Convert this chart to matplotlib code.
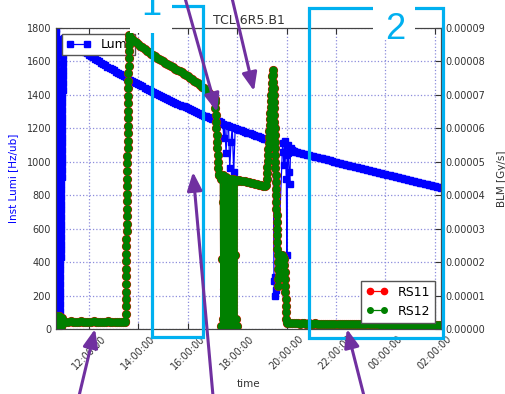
import numpy as np
import pandas as pd
import matplotlib
matplotlib.use("Agg")
import matplotlib.pyplot as plt
import matplotlib.dates as mdates
import matplotlib.patches as patches
from matplotlib.ticker import FormatStrFormatter

W, H = 506, 394
DAY = pd.Timestamp("2012-06-01")

# Inst lumi [Hz/ub], one list per logging stretch (times in hours from midnight)
lumi_ramp_down = [1795, 1770, 1735, 1700, 1660, 1625, 1585, 1545, 1510, 1470, 1430,
                  1390, 1350, 1315, 1275, 1235, 1195, 1160, 1120, 1080, 1040, 1000,
                  960, 925, 885, 845, 805, 770, 730, 690, 650, 615, 575, 535, 495,
                  460, 420, 380, 340, 300, 260, 220, 180, 120, 60, 15]
lumi_ramp_up = [30, 70, 110, 150, 190, 230, 270, 310, 350, 390, 430, 470, 510, 550,
                590, 630, 670, 710, 750, 790, 830, 870, 910, 950, 990, 1030, 1070,
                1110, 1150, 1190, 1230, 1270, 1310, 1350, 1390, 1430, 1470, 1510,
                1550, 1590, 1630, 1670, 1700, 1720, 1735]
# 11:00 .. 17:10, every 5 min
lumi_fill_a = [1742, 1733, 1724, 1715, 1707, 1698, 1690, 1681, 1673, 1664, 1656, 1648,
               1640, 1632, 1624, 1616, 1608, 1600, 1592, 1585, 1577, 1569, 1562, 1554,
               1547, 1539, 1532, 1525, 1518, 1511, 1504, 1497, 1490, 1483, 1477, 1470,
               1464, 1457, 1451, 1444, 1438, 1432, 1426, 1420, 1414, 1408, 1402, 1396,
               1390, 1384, 1378, 1372, 1366, 1360, 1354, 1348, 1342, 1336, 1331, 1325,
               1320, 1314, 1309, 1303, 1298, 1292, 1287, 1281, 1276, 1271, 1266, 1261,
               1256, 1251, 1246]
lumi_dip_h = [17.25, 17.33, 17.42, 17.46, 17.50, 17.55, 17.60, 17.65, 17.70, 17.75,
              17.80, 17.86, 17.92]
lumi_dip_v = [1241, 1236, 1228, 1140, 1222, 1050, 1218, 1214, 960, 1120, 1208, 940,
              1202]
# 18:00 .. 19:20
lumi_fill_b = [1197, 1192, 1188, 1183, 1179, 1174, 1170, 1165, 1161, 1156, 1152, 1147,
               1143, 1138, 1134, 1130, 1126]
lumi_loss_h = [19.40, 19.46, 19.49, 19.52, 19.55, 19.58, 19.62, 19.84, 19.87, 19.90,
               19.93, 19.96, 19.99, 20.01, 20.04, 20.07, 20.10, 20.13, 20.16, 20.20,
               20.25, 20.30]
lumi_loss_v = [1120, 1115, 290, 200, 310, 235, 270, 1110, 1060, 980, 1125, 1040, 900,
               440, 1100, 1050, 940, 870, 1080, 1072, 1066, 1062]
# 20:20 .. 02:15
lumi_fill_c = [1061, 1058, 1055, 1052, 1048, 1045, 1042, 1039, 1036, 1033,
               1030, 1026, 1023, 1020, 1017, 1014, 1011, 1008, 1004, 1001,
               998, 995, 992, 989, 986, 982, 979, 976, 973, 970,
               967, 964, 961, 958, 955, 952, 949, 946, 943, 940,
               937, 934, 931, 928, 925, 922, 919, 916, 913, 910,
               907, 904, 901, 898, 895, 892, 889, 886, 883, 880,
               877, 874, 871, 868, 866, 863, 860, 857, 854, 851,
               848, 845]

# BLM RS12 [1e-5 Gy/s]
blm_start = [0.30, 0.12, 0.36, 0.08, 0.28, 0.40, 0.15, 0.05, 0.33, 0.22, 0.10, 0.38,
             0.25, 0.18, 0.30, 0.22, 0.35, 0.12, 0.28, 0.06, 0.31, 0.24, 0.16, 0.34,
             0.22, 0.27, 0.19, 0.24, 0.22, 0.22]
blm_flat_a = [0.22, 0.20, 0.21, 0.23, 0.22, 0.20, 0.21, 0.22, 0.23, 0.21, 0.20, 0.22,
              0.22, 0.21, 0.23, 0.22, 0.20, 0.21, 0.22, 0.22, 0.21, 0.23, 0.22, 0.20,
              0.21, 0.22, 0.22, 0.21, 0.22, 0.21]
blm_ramp = [0.25, 0.45, 0.68, 0.90, 1.12, 1.35, 1.57, 1.80, 2.02, 2.25, 2.47, 2.70,
            2.92, 3.15, 3.37, 3.60, 3.82, 4.05, 4.27, 4.50, 4.72, 4.95, 5.17, 5.40,
            5.62, 5.85, 6.07, 6.30, 6.52, 6.75, 6.97, 7.20, 7.42, 7.65, 7.87, 8.10,
            8.30, 8.50, 8.68, 8.80]
blm_decay = [8.72, 8.67, 8.62, 8.57, 8.52, 8.47, 8.42, 8.37, 8.32, 8.27,
             8.22, 8.18, 8.15, 8.11, 8.08, 8.04, 8.00, 7.96, 7.93, 7.89,
             7.86, 7.82, 7.78, 7.74, 7.71, 7.67, 7.63, 7.59, 7.55, 7.51,
             7.47, 7.43, 7.39, 7.35, 7.30, 7.25, 7.20, 7.14, 7.08, 7.02,
             6.96, 6.88]
blm_drop = [6.8, 6.6, 6.4, 6.2, 6.0, 5.8, 5.6, 5.4, 5.2, 5.0, 4.8, 4.6, 4.6, 4.62]
blm_spiky = [4.6, 0.1, 4.5, 2.1, 0.05, 3.8, 4.6, 0.3, 1.2, 4.5, 0.08, 2.9, 4.55, 0.15,
             4.5, 3.3, 0.05, 1.8, 4.5, 0.2, 4.5, 0.1, 2.5, 4.48, 0.06, 4.45, 1.0, 3.9,
             0.12, 4.5, 0.05, 4.47, 2.2, 0.1, 4.46, 0.3, 4.45, 0.08, 4.45, 4.44]
blm_flat_b = [4.45, 4.44, 4.43, 4.42, 4.41, 4.40, 4.38, 4.37, 4.35, 4.34, 4.32, 4.30,
              4.29, 4.27]
blm_bump_up = [4.30, 4.48, 4.66, 4.84, 5.02, 5.20, 5.38, 5.56, 5.74, 5.92, 6.10, 6.28,
               6.46, 6.64, 6.82, 7.00, 7.18, 7.36, 7.56, 7.75]
blm_bump_down = [7.6, 7.4, 7.2, 7.0, 6.8, 6.6, 6.4, 6.2, 6.0, 5.8, 5.6, 5.4, 5.2, 5.0,
                 4.8, 4.6, 4.4, 4.2, 4.0, 3.8, 3.6, 3.4, 3.2, 3.0, 2.8, 2.6, 2.4, 2.2,
                 2.0, 1.8, 1.5, 1.3]
blm_tail_h = [19.69, 19.72, 19.74, 19.78, 19.81, 19.84, 19.87, 19.89, 19.91, 19.92,
              19.93, 19.94, 19.95, 19.96, 19.97, 19.98, 19.99, 20.00, 20.01]
blm_tail_v = [1.6, 2.0, 2.2, 2.2, 2.2, 2.15, 2.15, 2.1, 1.9, 1.7, 1.5, 1.3, 1.1, 0.9,
              0.7, 0.5, 0.3, 0.2, 0.17]
blm_flat_c = [0.17, 0.18, 0.17, 0.17, 0.18, 0.17, 0.16, 0.17, 0.17, 0.16,
              0.17, 0.16, 0.16, 0.17, 0.16, 0.16, 0.15, 0.16, 0.16, 0.15,
              0.16, 0.15, 0.15, 0.16, 0.15, 0.15, 0.16, 0.15, 0.15, 0.14,
              0.15, 0.15, 0.14, 0.15, 0.15, 0.14, 0.15, 0.14, 0.14, 0.15,
              0.14, 0.14, 0.15, 0.14, 0.14, 0.13, 0.14, 0.14, 0.13, 0.14,
              0.14, 0.13, 0.14, 0.13, 0.13, 0.14, 0.13, 0.13, 0.14, 0.13,
              0.13, 0.12, 0.13, 0.13, 0.12, 0.13, 0.12, 0.13, 0.12, 0.12,
              0.13, 0.12, 0.12, 0.13, 0.12]


def stretch(t0, t1, vals):
    return np.linspace(t0, t1, len(vals))


def to_time(hours):
    return (DAY + pd.to_timedelta(np.asarray(hours, float), unit="h")).to_numpy()


lumi_h = np.concatenate([
    stretch(10.67, 10.79, lumi_ramp_down), stretch(10.82, 10.96, lumi_ramp_up),
    stretch(11.0, 17.1667, lumi_fill_a), lumi_dip_h,
    stretch(18.0, 19.3333, lumi_fill_b), lumi_loss_h,
    stretch(20.3333, 26.25, lumi_fill_c)])
lumi = np.concatenate([lumi_ramp_down, lumi_ramp_up, lumi_fill_a, lumi_dip_v,
                       lumi_fill_b, lumi_loss_v, lumi_fill_c])

blm_h = np.concatenate([
    stretch(10.67, 10.97, blm_start), stretch(11.0, 13.46, blm_flat_a),
    stretch(13.48, 13.62, blm_ramp), stretch(13.667, 17.083, blm_decay),
    stretch(17.10, 17.28, blm_drop), stretch(17.32, 18.02, blm_spiky),
    stretch(18.08, 19.14, blm_flat_b), stretch(19.18, 19.44, blm_bump_up),
    stretch(19.46, 19.66, blm_bump_down), blm_tail_h,
    stretch(20.05, 26.25, blm_flat_c)])
rs12 = np.concatenate([blm_start, blm_flat_a, blm_ramp, blm_decay, blm_drop,
                       blm_spiky, blm_flat_b, blm_bump_up, blm_bump_down,
                       blm_tail_v, blm_flat_c]) * 1e-5
rs11 = rs12.copy()  # both monitors read the same within marker size

TICK = "#333333"
GRID = "#8c8cdc"
CYAN = "#00b0f0"
PURPLE = "#7030a0"

fig = plt.figure(figsize=(W / 100, H / 100), dpi=100)
ax = fig.add_axes([56 / W, 1 - 329 / H, 385 / W, 301 / H])

ax.plot(to_time(lumi_h), lumi, color="b", marker="s", ms=5.0, mec="b", lw=0.9,
        label="Lumi")
ax.set_ylim(0, 1800)
ax.set_yticks(range(0, 1801, 200))
ax.set_xlim(to_time([10.667, 26.25]))
ax.xaxis.set_major_locator(mdates.HourLocator(byhour=range(0, 24, 2)))
ax.xaxis.set_major_formatter(mdates.DateFormatter("%H:%M:%S"))
ax.grid(True, color=GRID, ls=":", lw=0.9)
ax.tick_params(direction="in", top=True, labelsize=7, colors=TICK, length=4)
ax.tick_params(axis="x", labelrotation=45)
for lab in ax.get_xticklabels():
    lab.set_ha("center")
for sp in ax.spines.values():
    sp.set_color("#444444")
ax.set_ylabel("Inst Lumi [Hz/ub]", color="b", fontsize=7.5)
ax.yaxis.set_label_coords(-0.099, 0.5)
ax.set_xlabel("time", fontsize=7.5, color=TICK)
ax.xaxis.set_label_coords(0.5, -0.165)
ax.set_title("TCL.6R5.B1", fontsize=9, color=TICK, pad=3)
ax.legend(loc="upper left", fontsize=9, numpoints=2, fancybox=False,
          framealpha=1, edgecolor="#555555", borderpad=0.3)

ax2 = ax.twinx()
ax2.plot(to_time(blm_h), rs11, color="r", marker="o", ms=5.6, mec="r", lw=0.9,
         label="RS11")
ax2.plot(to_time(blm_h), rs12, color="g", marker="o", ms=5.0, mec="g", lw=0.9,
         label="RS12")
ax2.set_ylim(0, 9e-5)
ax2.set_yticks(np.arange(0, 9.5e-5, 1e-5))
ax2.yaxis.set_major_formatter(FormatStrFormatter("%.5f"))
ax2.tick_params(direction="in", labelsize=7, colors=TICK, length=4)
for sp in ax2.spines.values():
    sp.set_color("#444444")
ax2.set_ylabel("BLM [Gy/s]", fontsize=7.5, color=TICK)
ax2.yaxis.set_label_coords(1.145, 0.5)
ax2.legend(loc="lower right", fontsize=9, numpoints=2, fancybox=False,
           framealpha=1, edgecolor="#555555", borderpad=0.4, handlelength=1.7,
           markerscale=0.8)

# hand-drawn markup on top, in pixel coordinates
over = fig.add_axes([0, 0, 1, 1], zorder=10)
over.set_xlim(0, W)
over.set_ylim(H, 0)
over.axis("off")

arrows = [((185, -2), (217, 112)), ((232, -2), (254, 91)), ((79, 396), (95, 329)),
          ((213, 396), (193, 172)), ((364, 396), (347, 329))]
for tail, tip in arrows:
    over.annotate("", xy=tip, xytext=tail,
                  arrowprops=dict(arrowstyle="-|>,head_length=1.1,head_width=0.45",
                                  mutation_scale=10, color=PURPLE, lw=2.2,
                                  shrinkA=0, shrinkB=0))

over.add_patch(patches.Rectangle((152, 6), 51, 331, fill=False, ec=CYAN, lw=2.3))
over.add_patch(patches.Rectangle((309, 8), 134, 330, fill=False, ec=CYAN, lw=2.3))
over.add_patch(patches.Rectangle((130, -5), 42, 38, fc="white", ec="none"))
over.add_patch(patches.Rectangle((373, -5), 42, 45, fc="white", ec="none"))
over.text(151, 15, "1", fontsize=26, color=CYAN, family="Liberation Sans",
          ha="center", va="baseline")
over.text(395, 39, "2", fontsize=26, color=CYAN, family="Liberation Sans",
          ha="center", va="baseline")

fig.savefig("out.png", dpi=100)
